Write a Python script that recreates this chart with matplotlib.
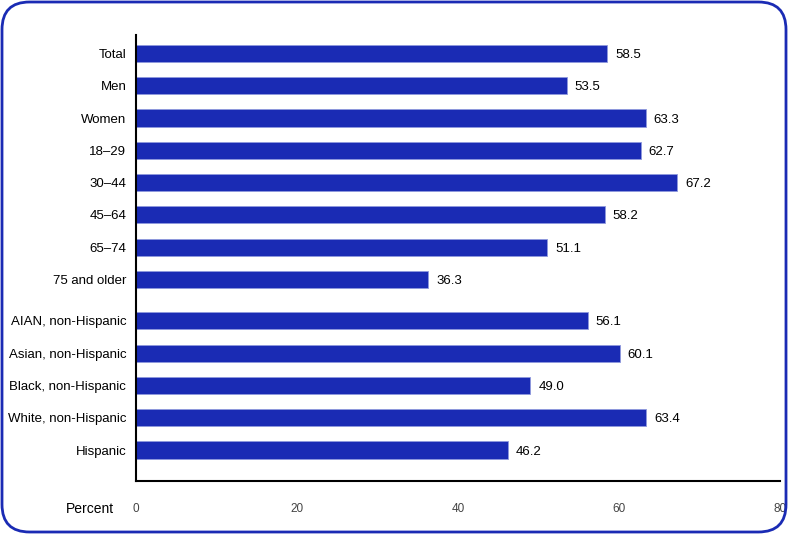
import numpy as np
import matplotlib.pyplot as plt
from matplotlib.patches import FancyBboxPatch

plt.rcParams['font.family'] = ['Liberation Sans', 'DejaVu Sans']

categorias = ['Total', 'Men', 'Women', '18\u201329', '30\u201344', '45\u201364', '65\u201374',
              '75 and older', 'AIAN, non-Hispanic', 'Asian, non-Hispanic',
              'Black, non-Hispanic', 'White, non-Hispanic', 'Hispanic']
valores = [58.5, 53.5, 63.3, 62.7, 67.2, 58.2, 51.1, 36.3, 56.1, 60.1, 49.0, 63.4, 46.2]
xticks = [0, 20, 40, 60, 80]

# posiciones: hueco extra entre edad y raza
pos = np.arange(len(categorias), dtype=float)
pos[8:] += 0.285

azul = '#1a2bb4'

fig = plt.figure(figsize=(7.88, 5.34), dpi=100)
ax = fig.add_axes([136/788, 1-481/534, (780-136)/788, (481-35)/534])

ax.barh(pos, valores, height=0.53, color=azul, edgecolor='#8f99dd', linewidth=0.6)
for p, v in zip(pos, valores):
    ax.text(v + 1.0, p, f'{v:.1f}', va='center_baseline', ha='left', fontsize=9.5, color='black')

ax.set_xlim(0, 80)
ax.set_ylim(pos[-1] + 0.96, -0.573)
ax.set_yticks(pos)
ax.set_yticklabels(categorias, fontsize=9.5)
ax.set_xticks(xticks)
ax.set_xticklabels([str(t) for t in xticks], fontsize=8.5, color='#444444')
ax.tick_params(axis='both', length=0)
ax.tick_params(axis='y', pad=7)
ax.tick_params(axis='x', pad=16)
for s in ['top', 'right']:
    ax.spines[s].set_visible(False)
ax.spines['left'].set_linewidth(1.5)
ax.spines['bottom'].set_linewidth(1.5)

fig.text(114/788, 1-509/534, 'Percent', ha='right', va='center', fontsize=10)

borde = FancyBboxPatch((2/788, 2/534), 784/788, 530/534,
                       boxstyle='round,pad=0,rounding_size=0.035',
                       transform=fig.transFigure, fill=False,
                       edgecolor=azul, linewidth=2, mutation_aspect=788/534)
fig.patches.append(borde)

plt.savefig('out.png', dpi=100)
